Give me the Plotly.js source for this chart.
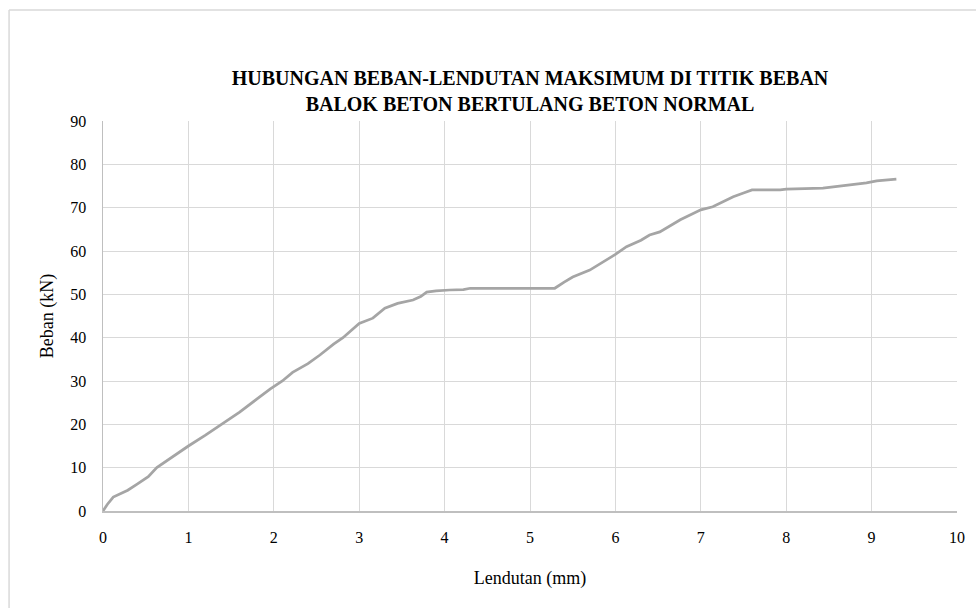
<!DOCTYPE html>
<html>
<head>
<meta charset="utf-8">
<script src="https://cdn.plot.ly/plotly-3.0.1.min.js"></script>
<style>html,body{margin:0;padding:0;background:#fff;}#chart{width:976px;height:608px;}</style>
</head>
<body>
<div id="chart"></div>
<script>
// Lendutan (mm)
const lendutan = [0, 0.05, 0.12, 0.2, 0.29, 0.4, 0.53, 0.63, 0.8, 1.0, 1.2, 1.39, 1.6, 1.8, 1.96, 2.1, 2.22, 2.4, 2.54, 2.7, 2.81, 3.0, 3.16, 3.3, 3.45, 3.63, 3.72, 3.79, 3.9, 4.06, 4.22, 4.3, 4.6, 5.0, 5.29, 5.4, 5.5, 5.7, 5.85, 6.0, 6.13, 6.3, 6.4, 6.52, 6.76, 7.0, 7.14, 7.25, 7.38, 7.5, 7.6, 7.93, 8.0, 8.43, 8.71, 8.94, 9.06, 9.29];
// Beban (kN)
const beban = [0, 1.5, 3.2, 4.0, 4.8, 6.2, 7.9, 10.0, 12.3, 15.0, 17.5, 20.0, 22.8, 25.8, 28.2, 30.0, 32.0, 34.0, 36.0, 38.5, 40.0, 43.3, 44.5, 46.8, 47.9, 48.7, 49.5, 50.5, 50.8, 51.0, 51.1, 51.4, 51.4, 51.4, 51.4, 52.8, 54.0, 55.6, 57.3, 59.2, 61.0, 62.5, 63.7, 64.4, 67.2, 69.5, 70.2, 71.2, 72.5, 73.4, 74.1, 74.1, 74.3, 74.5, 75.2, 75.7, 76.2, 76.6];

const titleLines = ['HUBUNGAN BEBAN-LENDUTAN MAKSIMUM DI TITIK BEBAN', 'BALOK BETON BERTULANG BETON NORMAL'];
const xTitle = 'Lendutan (mm)';
const yTitle = 'Beban (kN)';

const serif = 'Liberation Serif';

const trace = {
  x: lendutan,
  y: beban,
  type: 'scatter',
  mode: 'lines',
  line: {color: '#a5a5a5', width: 2.75},
  hoverinfo: 'skip'
};

const layout = {
  width: 976,
  height: 608,
  margin: {l: 103, r: 19, t: 121, b: 97},
  paper_bgcolor: '#ffffff',
  plot_bgcolor: '#ffffff',
  showlegend: false,
  font: {family: serif},
  title: {
    text: titleLines.join('<br>'),
    font: {family: serif, size: 20, color: '#000000', weight: 'bold'},
    x: 0.5, xref: 'paper', xanchor: 'center',
    y: 0.86, yref: 'container', yanchor: 'middle'
  },
  xaxis: {
    range: [0, 10],
    dtick: 1,
    tick0: 0,
    showgrid: true,
    gridcolor: '#d9d9d9',
    gridwidth: 1,
    zeroline: false,
    showline: true,
    linecolor: '#bfbfbf',
    linewidth: 1.5,
    ticks: '',
    ticklabelstandoff: 11,
    tickfont: {family: serif, size: 16, color: '#000000'},
    title: {text: xTitle, font: {family: serif, size: 18, color: '#000000'}, standoff: 26}
  },
  yaxis: {
    range: [0, 90],
    dtick: 10,
    tick0: 0,
    showgrid: true,
    gridcolor: '#d9d9d9',
    gridwidth: 1,
    zeroline: false,
    showline: true,
    linecolor: '#bfbfbf',
    linewidth: 1.5,
    ticks: '',
    ticklabelstandoff: 12,
    tickfont: {family: serif, size: 16, color: '#000000'},
    title: {text: yTitle, font: {family: serif, size: 18, color: '#000000'}, standoff: 12}
  },
  shapes: [
    {type: 'line', xref: 'paper', yref: 'paper', x0: -0.110, x1: -0.110, y0: -0.3, y1: 1.2846, line: {color: '#d9d9d9', width: 1.5}},
    {type: 'line', xref: 'paper', yref: 'paper', x0: -0.110, x1: 1.05, y0: 1.2846, y1: 1.2846, line: {color: '#d9d9d9', width: 1.5}}
  ]
};

Plotly.newPlot('chart', [trace], layout, {staticPlot: true, displayModeBar: false});
</script>
</body>
</html>
